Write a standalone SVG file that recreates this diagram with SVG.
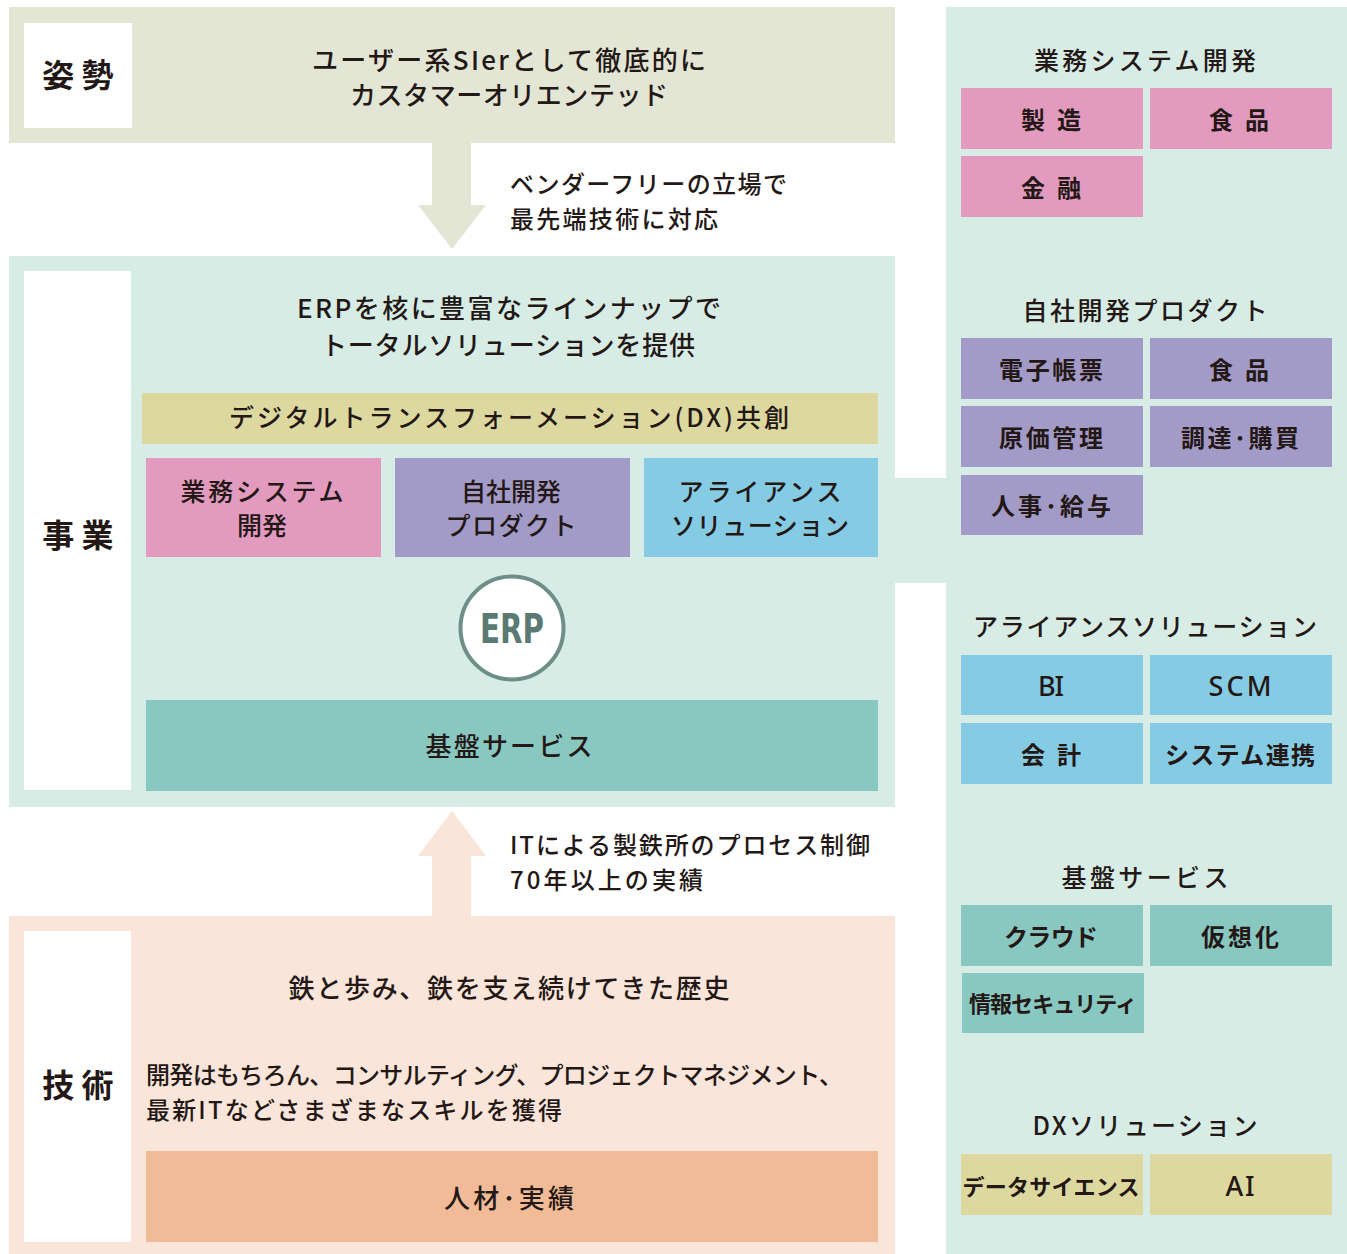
<svg xmlns="http://www.w3.org/2000/svg" width="1347" height="1254" viewBox="0 0 1347 1254">
<style>
text{font-family:"Noto Sans CJK JP","Noto Sans",sans-serif;fill:#231815;dominant-baseline:central}
.c{text-anchor:middle}
.body{font-size:26px;font-weight:500}
.lab{font-size:32px;font-weight:700;text-anchor:middle}
.box{font-size:25px;font-weight:500;text-anchor:middle}
.rt{font-size:25px;font-weight:500;text-anchor:middle}
.rb{font-size:24px;font-weight:700;text-anchor:middle}
.lat{font-family:"Noto Sans","DejaVu Sans",sans-serif;font-size:27px;font-weight:500}
.white{fill:#fff}
.pink{fill:#e29bbf}
.purple{fill:#a39bc7}
.blue{fill:#86cbe4}
.teal{fill:#89c7c1}
.khaki{fill:#ddd8a0}
.peach{fill:#f2bb97}
.mint{fill:#d8ece6}
</style>

<g id="connectors">
  <polygon id="arrow-down" points="432,143 471,143 471,205 486,205 452,249 418,205 432,205" fill="#e3e6d5"/>
  <polygon id="arrow-up" points="452,811 486,856 471,856 471,917 432,917 432,856 418,856" fill="#f9e5d9"/>
  <rect id="link-band" x="894" y="478" width="53" height="105" class="mint"/>
</g>

<g id="stance">
  <rect x="9" y="7" width="886" height="136" fill="#e3e6d5"/>
  <rect x="24" y="23" width="108" height="105" class="white"/>
  <text class="lab" x="78" y="73">姿 勢</text>
  <text class="body c" x="509" y="58" textLength="394" lengthAdjust="spacing">ユーザー系SIerとして徹底的に</text>
  <text class="body c" x="509" y="93" textLength="318" lengthAdjust="spacing">カスタマーオリエンテッド</text>
</g>

<g id="note-vendor">
  <text class="body" x="510" y="182" style="font-size:24px" textLength="277" lengthAdjust="spacing">ベンダーフリーの立場で</text>
  <text class="body" x="510" y="217" style="font-size:24px" textLength="208" lengthAdjust="spacing">最先端技術に対応</text>
</g>

<g id="business">
  <rect x="9" y="256" width="886" height="551" class="mint"/>
  <rect x="24" y="271" width="107" height="519" class="white"/>
  <text class="lab" x="78" y="533">事 業</text>
  <text class="body c" x="509" y="306" textLength="424" lengthAdjust="spacing">ERPを核に豊富なラインナップで</text>
  <text class="body c" x="508" y="343" textLength="374" lengthAdjust="spacing">トータルソリューションを提供</text>
</g>

<g id="dx-bar">
  <rect x="142" y="393" width="736" height="51" class="khaki"/>
  <text class="box" x="509" y="416" textLength="560" lengthAdjust="spacing">デジタルトランスフォーメーション(DX)共創</text>
</g>

<g id="biz-system">
  <rect x="146" y="458" width="235" height="99" class="pink"/>
  <text class="box" x="262" y="490" textLength="163" lengthAdjust="spacing">業務システム</text>
  <text class="box" x="262" y="524">開発</text>
</g>
<g id="own-product">
  <rect x="395" y="458" width="235" height="99" class="purple"/>
  <text class="box" x="511" y="490">自社開発</text>
  <text class="box" x="511" y="524" textLength="131" lengthAdjust="spacing">プロダクト</text>
</g>
<g id="alliance">
  <rect x="644" y="458" width="234" height="99" class="blue"/>
  <text class="box" x="760" y="490" textLength="163" lengthAdjust="spacing">アライアンス</text>
  <text class="box" x="760" y="524" textLength="178" lengthAdjust="spacing">ソリューション</text>
</g>

<g id="erp">
  <circle cx="512" cy="628" r="51.5" fill="#fff" stroke="#6e8f88" stroke-width="4"/>
  <text x="512" y="629" text-anchor="middle" style="font-family:'DejaVu Sans Condensed','Liberation Sans Narrow','DejaVu Sans',sans-serif;font-size:40px;font-weight:700;fill:#5a7a72" textLength="64" lengthAdjust="spacingAndGlyphs">ERP</text>
</g>

<g id="infra-bar">
  <rect x="146" y="700" width="732" height="91" class="teal"/>
  <text class="box" x="509" y="744" style="font-size:26px" textLength="167" lengthAdjust="spacing">基盤サービス</text>
</g>

<g id="note-it">
  <text class="body" x="510" y="843" style="font-size:24px" textLength="360" lengthAdjust="spacing">ITによる製鉄所のプロセス制御</text>
  <text class="body" x="510" y="878" style="font-size:24px" textLength="193" lengthAdjust="spacing">70年以上の実績</text>
</g>

<g id="technology">
  <rect x="9" y="916" width="886" height="338" fill="#f9e5d9"/>
  <rect x="24" y="931" width="107" height="311" class="white"/>
  <text class="lab" x="78" y="1083">技 術</text>
  <text class="body c" x="509" y="986" textLength="441" lengthAdjust="spacing">鉄と歩み、鉄を支え続けてきた歴史</text>
  <text class="body" x="146" y="1073" style="font-size:24px" textLength="697" lengthAdjust="spacing">開発はもちろん、コンサルティング、プロジェクトマネジメント、</text>
  <text class="body" x="146" y="1108" style="font-size:24px" textLength="416" lengthAdjust="spacing">最新ITなどさまざまなスキルを獲得</text>
</g>

<g id="people-bar">
  <rect x="146" y="1151" width="732" height="91" class="peach"/>
  <text class="box" x="509" y="1196" style="font-size:26px" textLength="130" lengthAdjust="spacing">人材･実績</text>
</g>

<g id="right-panel">
  <rect x="946" y="7" width="401" height="1247" class="mint"/>
</g>

<g id="r-biz">
  <text class="rt" x="1145" y="59" textLength="222" lengthAdjust="spacing">業務システム開発</text>
  <rect x="961" y="88" width="182" height="61" class="pink"/>
  <text class="rb" x="1051" y="118" textLength="60" lengthAdjust="spacing">製 造</text>
  <rect x="1150" y="88" width="182" height="61" class="pink"/>
  <text class="rb" x="1239" y="118" textLength="60" lengthAdjust="spacing">食 品</text>
  <rect x="961" y="156" width="182" height="61" class="pink"/>
  <text class="rb" x="1051" y="186" textLength="60" lengthAdjust="spacing">金 融</text>
</g>

<g id="r-product">
  <text class="rt" x="1145" y="309" textLength="245" lengthAdjust="spacing">自社開発プロダクト</text>
  <rect x="961" y="338" width="182" height="61" class="purple"/>
  <text class="rb" x="1051" y="368" textLength="104" lengthAdjust="spacing">電子帳票</text>
  <rect x="1150" y="338" width="182" height="61" class="purple"/>
  <text class="rb" x="1239" y="368" textLength="60" lengthAdjust="spacing">食 品</text>
  <rect x="961" y="406" width="182" height="61" class="purple"/>
  <text class="rb" x="1051" y="436" textLength="104" lengthAdjust="spacing">原価管理</text>
  <rect x="1150" y="406" width="182" height="61" class="purple"/>
  <text class="rb" x="1240" y="436" textLength="118" lengthAdjust="spacing">調達･購買</text>
  <rect x="961" y="475" width="182" height="60" class="purple"/>
  <text class="rb" x="1051" y="504" textLength="120" lengthAdjust="spacing">人事･給与</text>
</g>

<g id="r-alliance">
  <text class="rt" x="1145" y="625" textLength="344" lengthAdjust="spacing">アライアンスソリューション</text>
  <rect x="961" y="655" width="182" height="60" class="blue"/>
  <text class="rb lat" x="1051" y="685" textLength="26" lengthAdjust="spacing">BI</text>
  <rect x="1150" y="655" width="182" height="60" class="blue"/>
  <text class="rb lat" x="1240" y="685" textLength="63" lengthAdjust="spacing">SCM</text>
  <rect x="961" y="723" width="182" height="61" class="blue"/>
  <text class="rb" x="1051" y="753" textLength="60" lengthAdjust="spacing">会 計</text>
  <rect x="1150" y="723" width="182" height="61" class="blue"/>
  <text class="rb" x="1240" y="753" textLength="150" lengthAdjust="spacing">システム連携</text>
</g>

<g id="r-infra">
  <text class="rt" x="1145" y="876" textLength="167" lengthAdjust="spacing">基盤サービス</text>
  <rect x="961" y="905" width="182" height="61" class="teal"/>
  <text class="rb" x="1051" y="935" textLength="94" lengthAdjust="spacing">クラウド</text>
  <rect x="1150" y="905" width="182" height="61" class="teal"/>
  <text class="rb" x="1240" y="935" textLength="78" lengthAdjust="spacing">仮想化</text>
  <rect x="962" y="973" width="182" height="60" class="teal"/>
  <text class="rb" x="1053" y="1002" style="font-size:22px" textLength="168" lengthAdjust="spacing">情報セキュリティ</text>
</g>

<g id="r-dx">
  <text class="rt" x="1145" y="1124" textLength="225" lengthAdjust="spacing">DXソリューション</text>
  <rect x="961" y="1154" width="182" height="61" class="khaki"/>
  <text class="rb" x="1051" y="1185" style="font-size:22px" textLength="177" lengthAdjust="spacing">データサイエンス</text>
  <rect x="1150" y="1154" width="182" height="61" class="khaki"/>
  <text class="rb lat" x="1240" y="1185" textLength="29" lengthAdjust="spacing">AI</text>
</g>
</svg>
